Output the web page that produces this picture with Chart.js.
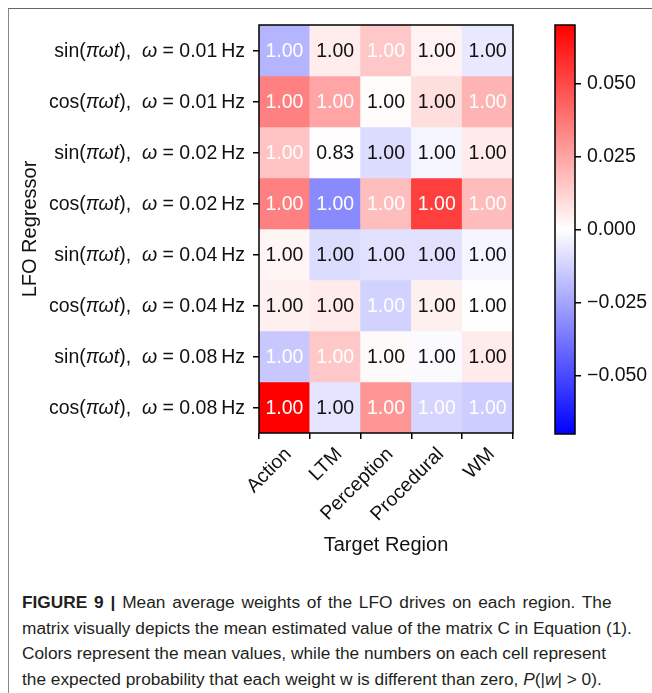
<!DOCTYPE html>
<html>
<head>
<meta charset="utf-8">
<script src="https://cdn.jsdelivr.net/npm/chart.js@4.4.0/dist/chart.umd.min.js"></script>
<style>
  body { margin: 0; background: #fff; width: 652px; height: 693px; overflow: hidden; position: relative; font-family: "Liberation Sans", Arial, sans-serif; }
  #frame { position: absolute; left: 8px; top: 8px; width: 660px; height: 700px; border-top: 1.5px solid #666; border-left: 1.5px solid #888; }
  #heat { position: absolute; left: 0; top: 0; }
  #cbar { position: absolute; left: 540px; top: 0; }
  #caption { position: absolute; left: 22px; top: 590px; font-size: 17.3px; line-height: 25.7px; color: #231f20; white-space: nowrap; }
  #caption b { font-weight: bold; }
  #caption .wide { word-spacing: 2px; }
</style>
</head>
<body>
<div id="frame"></div>
<canvas id="heat" width="540" height="570"></canvas>
<canvas id="cbar" width="112" height="470"></canvas>
<div id="caption">
  <span class="wide"><b>FIGURE 9 |</b> Mean average weights of the LFO drives on each region. The</span><br>
  matrix visually depicts the mean estimated value of the matrix C in Equation (1).<br>
  Colors represent the mean values, while the numbers on each cell represent<br>
  the expected probability that each weight w is different than zero, <i>P</i>(|<i>w</i>| &gt; 0).
</div>
<script>
// categories (columns) and regressors (rows)
const regions = ['Action', 'LTM', 'Perception', 'Procedural', 'WM'];
const regressorFns = ['sin', 'cos', 'sin', 'cos', 'sin', 'cos', 'sin', 'cos'];
const regressorFreqs = ['0.01', '0.01', '0.02', '0.02', '0.04', '0.04', '0.08', '0.08'];

// mean weight per cell (colour)
const meanWeights = [
  [-0.0206, 0.0052, 0.0151, 0.0036, -0.0063],
  [0.0350, 0.0247, 0.0008, 0.0090, 0.0206],
  [0.0165, 0.0005, -0.0095, -0.0027, 0.0055],
  [0.0350, -0.0320, 0.0178, 0.0530, 0.0184],
  [0.0027, -0.0096, -0.0082, -0.0082, -0.0027],
  [0.0040, 0.0055, -0.0124, 0.0040, -0.0003],
  [-0.0151, 0.0151, 0.0014, -0.0014, 0.0055],
  [0.0700, -0.0074, 0.0288, -0.0115, -0.0137]
];

// P(|w| > 0) per cell (text)
const probNonZero = [
  [1.00, 1.00, 1.00, 1.00, 1.00],
  [1.00, 1.00, 1.00, 1.00, 1.00],
  [1.00, 0.83, 1.00, 1.00, 1.00],
  [1.00, 1.00, 1.00, 1.00, 1.00],
  [1.00, 1.00, 1.00, 1.00, 1.00],
  [1.00, 1.00, 1.00, 1.00, 1.00],
  [1.00, 1.00, 1.00, 1.00, 1.00],
  [1.00, 1.00, 1.00, 1.00, 1.00]
];

const cbLimit = 0.07;
const cbTicks = [-0.05, -0.025, 0, 0.025, 0.05];
const whiteTextAbove = 0.0105;

const FONT = '"Liberation Sans", Arial, sans-serif';
const SIZE = 19.5;

// matplotlib "bwr" colormap
function bwr(v) {
  const t = Math.max(-1, Math.min(1, v / cbLimit));
  if (t < 0) {
    const c = Math.round(255 * (1 + t));
    return `rgb(${c},${c},255)`;
  }
  const c = Math.round(255 * (1 - t));
  return `rgb(255,${c},${c})`;
}

// black box round the plot area
const frameBox = {
  id: 'frameBox',
  afterDraw(chart) {
    const { ctx, chartArea: a } = chart;
    ctx.save();
    ctx.strokeStyle = '#000';
    ctx.lineWidth = 1.5;
    ctx.strokeRect(a.left, a.top, a.right - a.left, a.bottom - a.top);
    ctx.restore();
  }
};

// probability text in each cell
const cellLabels = {
  id: 'cellLabels',
  afterDatasetsDraw(chart) {
    const ctx = chart.ctx;
    ctx.save();
    ctx.font = `${SIZE}px ${FONT}`;
    ctx.textAlign = 'center';
    ctx.textBaseline = 'middle';
    chart.data.datasets.forEach((ds, i) => {
      chart.getDatasetMeta(i).data.forEach((bar, j) => {
        ctx.fillStyle = Math.abs(meanWeights[i][j]) > whiteTextAbove ? '#fff' : '#111';
        ctx.fillText(probNonZero[i][j].toFixed(2), bar.x, (bar.y + bar.base) / 2 + 1);
      });
    });
    ctx.restore();
  }
};

// row labels with italic math symbols
const rowLabels = {
  id: 'rowLabels',
  afterDraw(chart) {
    const ctx = chart.ctx;
    const yScale = chart.scales.y;
    const xRight = chart.chartArea.left - 6 - 8;
    ctx.save();
    ctx.fillStyle = '#111';
    ctx.textBaseline = 'middle';
    ctx.textAlign = 'left';
    regressorFns.forEach((fn, i) => {
      const parts = [
        [fn + '(', false], ['\u03c0\u03c9t', true], ['),  ', false],
        ['\u03c9', true], [' = ' + regressorFreqs[i] + '\u2009Hz', false]
      ];
      let total = 0;
      parts.forEach(([txt, it]) => {
        ctx.font = `${it ? 'italic ' : ''}${SIZE}px ${FONT}`;
        total += ctx.measureText(txt).width;
      });
      let x = xRight - total;
      const y = yScale.getPixelForValue(i) + 1;
      parts.forEach(([txt, it]) => {
        ctx.font = `${it ? 'italic ' : ''}${SIZE}px ${FONT}`;
        ctx.fillText(txt, x, y);
        x += ctx.measureText(txt).width;
      });
    });
    ctx.restore();
  }
};

new Chart(document.getElementById('heat'), {
  type: 'bar',
  data: {
    labels: regions,
    datasets: regressorFns.map((fn, i) => ({
      label: `${fn}(\u03c0\u03c9t), \u03c9 = ${regressorFreqs[i]}Hz`,
      data: regions.map(() => [i - 0.5, i + 0.5]),
      backgroundColor: meanWeights[i].map(bwr),
      borderWidth: 0,
      grouped: false,
      barPercentage: 1,
      categoryPercentage: 1
    }))
  },
  options: {
    responsive: false,
    animation: false,
    layout: { padding: { left: 0, top: 25, right: 27, bottom: 0 } },
    plugins: { legend: { display: false }, tooltip: { enabled: false } },
    scales: {
      x: {
        grid: { drawOnChartArea: false, drawTicks: true, tickLength: 6, color: '#000', lineWidth: 1.5 },
        border: { display: false },
        ticks: { color: '#111', font: { size: SIZE, family: FONT }, minRotation: 45, maxRotation: 45, padding: 4, labelOffset: 4 },
        title: { display: true, text: 'Target Region', color: '#111', font: { size: 20, family: FONT }, padding: { top: 0, bottom: 13 } },
        afterFit: s => { s.height = 137; }
      },
      y: {
        min: -0.5,
        max: 7.5,
        reverse: true,
        afterBuildTicks: s => { s.ticks = regressorFns.map((_, i) => ({ value: i })); },
        grid: { drawOnChartArea: false, drawTicks: true, tickLength: 6, color: '#000', lineWidth: 1.5 },
        border: { display: false },
        ticks: { callback: () => '' },
        title: { display: true, text: 'LFO Regressor', color: '#111', font: { size: 20, family: FONT }, padding: { top: 18, bottom: 0 } },
        afterFit: s => { s.width = 259; }
      }
    }
  },
  plugins: [cellLabels, rowLabels, frameBox]
});

new Chart(document.getElementById('cbar'), {
  type: 'bar',
  data: {
    labels: [''],
    datasets: [{
      data: [[-cbLimit, cbLimit]],
      backgroundColor: (c) => {
        const area = c.chart.chartArea;
        if (!area) return '#fff';
        const g = c.chart.ctx.createLinearGradient(0, area.bottom, 0, area.top);
        g.addColorStop(0, bwr(-cbLimit));
        g.addColorStop(0.5, bwr(0));
        g.addColorStop(1, bwr(cbLimit));
        return g;
      },
      borderWidth: 0,
      barPercentage: 1,
      categoryPercentage: 1
    }]
  },
  options: {
    responsive: false,
    animation: false,
    layout: { padding: { left: 15, top: 25, right: 0, bottom: 36 } },
    plugins: { legend: { display: false }, tooltip: { enabled: false } },
    scales: {
      x: { display: false },
      y: {
        position: 'right',
        min: -cbLimit,
        max: cbLimit,
        afterBuildTicks: s => { s.ticks = cbTicks.map(v => ({ value: v })); },
        grid: { drawOnChartArea: false, drawTicks: true, tickLength: 6, color: '#000', lineWidth: 1.5 },
        border: { display: false },
        ticks: {
          color: '#111',
          padding: 6,
          font: { size: SIZE, family: FONT },
          callback: v => (v < 0 ? '\u2212' : '') + Math.abs(v).toFixed(3)
        },
        afterFit: s => { s.width = 77; }
      }
    }
  },
  plugins: [frameBox]
});
</script>
</body>
</html>
